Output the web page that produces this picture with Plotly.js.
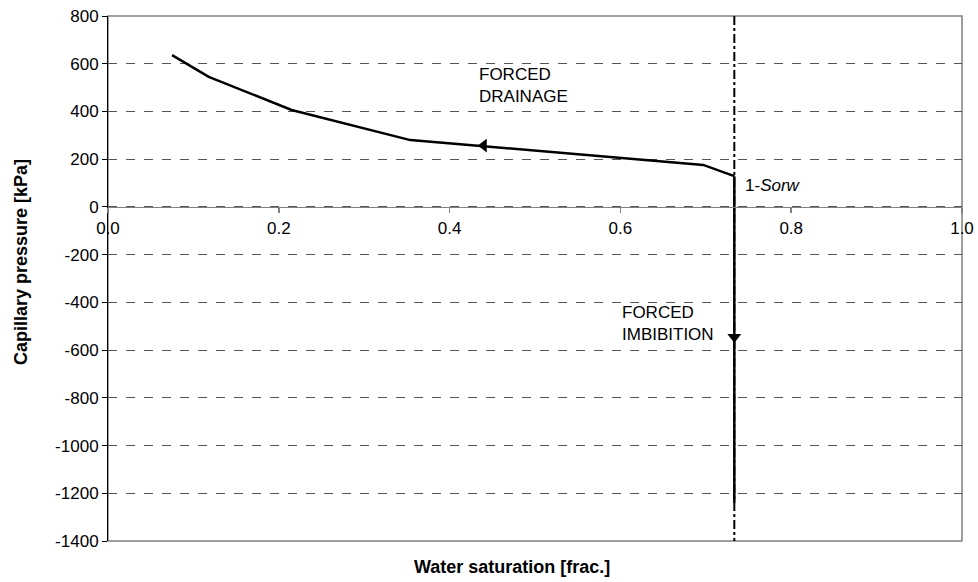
<!DOCTYPE html>
<html>
<head>
<meta charset="utf-8">
<script src="https://cdn.plot.ly/plotly-3.0.1.min.js"></script>
<style>html,body{margin:0;padding:0;background:#fff;}#chart{width:978px;height:582px;}</style>
</head>
<body>
<div id="chart"></div>
<script>
// ---- data ----
const drainageSw = [0.075, 0.118, 0.215, 0.354, 0.697, 0.7334];
const drainagePc = [636, 545, 406, 280, 176, 129];
const imbibitionSw = [0.7334, 0.7334];
const imbibitionPc = [129, -1240];
const sorwSw = [0.7334, 0.7334];
const sorwPc = [800, -1400];
const arrowSw = [0.44, 0.7334];
const arrowPc = [257, -545];
const arrowSymbols = ['triangle-left', 'triangle-down'];
const xTicks = [0, 0.2, 0.4, 0.6, 0.8, 1.0];
const xTickText = ['0.0', '0.2', '0.4', '0.6', '0.8', '1.0'];
const yTicks = [800, 600, 400, 200, 0, -200, -400, -600, -800, -1000, -1200, -1400];
const yTickText = ['800', '600', '400', '200', '0', '-200', '-400', '-600', '-800', '-1000', '-1200', '-1400'];
const xRange = [0, 1];
const yRange = [-1400, 800];
const labels = [
  {text: 'FORCED<br>DRAINAGE', x: 0.4326, y: 507},
  {text: 'FORCED<br>IMBIBITION', x: 0.5995, y: -487},
  {text: '1-<i>Sorw</i>', x: 0.743, y: 90}
];

const font = 'Liberation Sans, Arial, sans-serif';

const traces = [
  {x: sorwSw, y: sorwPc, mode: 'lines', line: {color: '#000', width: 2, dash: 'dashdot'}, hoverinfo: 'skip'},
  {x: drainageSw, y: drainagePc, mode: 'lines', line: {color: '#000', width: 2.5}},
  {x: imbibitionSw, y: imbibitionPc, mode: 'lines', line: {color: '#000', width: 2.5}},
  {x: arrowSw, y: arrowPc, mode: 'markers', marker: {symbol: arrowSymbols, size: 12, color: '#000'}}
];

const zeroPos = (0 - yRange[0]) / (yRange[1] - yRange[0]);

const layout = {
  width: 978, height: 582,
  margin: {l: 108, r: 16, t: 16, b: 41},
  paper_bgcolor: '#fff', plot_bgcolor: '#fff',
  showlegend: false,
  font: {family: font, size: 17, color: '#000'},
  xaxis: {
    range: xRange, tickvals: xTicks, ticktext: xTickText,
    anchor: 'free', position: zeroPos,
    showline: true, linecolor: '#808080', linewidth: 1.5,
    ticks: 'outside', ticklen: 5, tickcolor: '#808080', tickwidth: 1.5,
    showgrid: false, zeroline: false,
    tickfont: {family: font, size: 17, color: '#000'}
  },
  yaxis: {
    range: yRange, tickvals: yTicks, ticktext: yTickText,
    showline: true, linecolor: '#000', linewidth: 1,
    ticks: 'outside', ticklen: 5, tickcolor: '#000',
    showgrid: true, gridcolor: '#555', griddash: 'dash', gridwidth: 1,
    zeroline: false,
    tickfont: {family: font, size: 17, color: '#000'}
  },
  shapes: [
    {type: 'rect', xref: 'paper', yref: 'paper', x0: 0, x1: 1, y0: 0, y1: 1, line: {color: '#808080', width: 1.5}, layer: 'below'}
  ],
  annotations: labels.map(l => ({
    text: l.text, x: l.x, y: l.y, xref: 'x', yref: 'y', showarrow: false,
    xanchor: 'left', yanchor: 'middle', align: 'left',
    font: {family: font, size: 17, color: '#000'}
  })).concat([
    {text: '<b>Water saturation [frac.]</b>', xref: 'paper', yref: 'paper', x: 0.473, y: -0.05,
     xanchor: 'center', yanchor: 'middle', showarrow: false, font: {family: font, size: 18, color: '#000'}},
    {text: '<b>Capillary pressure [kPa]</b>', xref: 'paper', yref: 'paper', x: -0.102, y: 0.531,
     xanchor: 'center', yanchor: 'middle', textangle: -90, showarrow: false, font: {family: font, size: 18, color: '#000'}}
  ])
};

Plotly.newPlot('chart', traces, layout, {staticPlot: true, displayModeBar: false});
</script>
</body>
</html>
